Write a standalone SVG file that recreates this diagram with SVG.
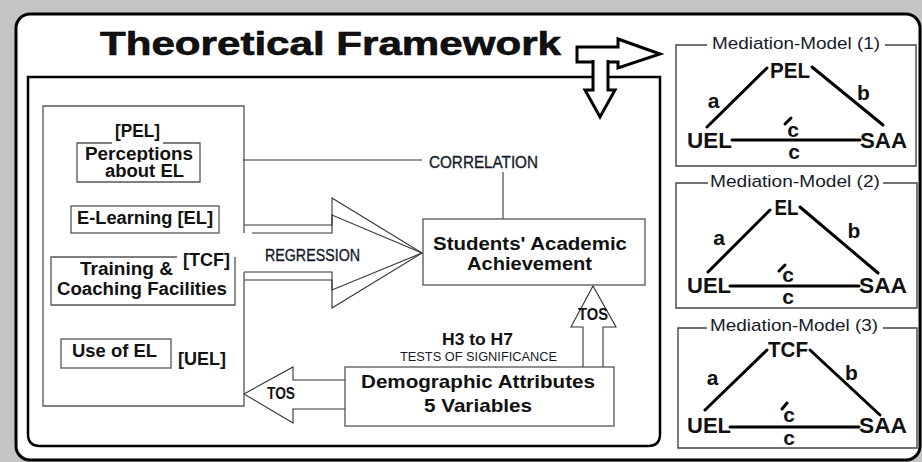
<svg xmlns="http://www.w3.org/2000/svg" width="922" height="462" viewBox="0 0 922 462">
<defs>
<style>
.b{font-family:"Liberation Sans",Arial,sans-serif;font-weight:bold;fill:#111;}
.r{font-family:"Liberation Sans",Arial,sans-serif;fill:#151b2a;}
.box{fill:none;stroke:#555;stroke-width:1.3;}
.thin{fill:none;stroke:#333;stroke-width:1.1;}
.mbox{fill:none;stroke:#444;stroke-width:1.4;}
.ml{stroke:#000;stroke-width:3;fill:none;stroke-linecap:round;}
.big{fill:#fff;stroke:#000;stroke-width:3;stroke-linejoin:miter;}
.lab{font-size:22px;text-anchor:middle;}
.sm{font-size:21px;text-anchor:middle;}
.mt{font-size:17px;text-anchor:middle;}
.lt{font-size:18px;text-anchor:middle;}
.semi{stroke:#151b2a;stroke-width:0.35;}
</style>
<clipPath id="clipPerc"><rect x="60" y="130" width="160" height="32"/></clipPath>
</defs>
<rect x="0" y="0" width="922" height="462" fill="#c4c4c4"/>
<rect x="16" y="14" width="904" height="446" rx="14" ry="14" fill="#fff" stroke="#000" stroke-width="3"/>
<g id="title">
<text class="b" x="100" y="55" font-size="33" textLength="461" lengthAdjust="spacingAndGlyphs" stroke="#000" stroke-width="0.6">Theoretical Framework</text>
</g>
<g id="inner-frame">
<path d="M28,77 H660 V434 Q660,446 648,446 H40 Q28,446 28,434 Z" fill="none" stroke="#000" stroke-width="2.5"/>
</g>
<g id="connectors">
<path class="big" d="M577,47 H618 V39 L660,54 L618,68 V62 H577 Z"/>
<path class="big" d="M593,60 V90 H585 L600,117 L615,90 H608 V60"/>
<line class="thin" x1="243" y1="160" x2="422" y2="160"/>
<line class="thin" x1="503" y1="172" x2="503" y2="219"/>
<path class="thin" d="M244,225 H332 V198 L422,253 L332,308 V280 H244"/>
<path class="thin" d="M252,233 H332 V215 L422,253 L332,290 V272 H244"/>
<path class="thin" d="M583,367 V327 H571 L593,286 L616,327 H603 V367" stroke="#666"/>
<path class="thin" d="M345,380 H293 V367 L244,394 L293,423 V409 H345" stroke="#555"/>
<text class="r semi" x="312.5" y="261" font-size="16" text-anchor="middle" textLength="95" lengthAdjust="spacingAndGlyphs">REGRESSION</text>
<text class="r semi" x="483.5" y="168" font-size="16" text-anchor="middle" textLength="109" lengthAdjust="spacingAndGlyphs">CORRELATION</text>
<text class="b" x="593" y="320" font-size="17" text-anchor="middle" textLength="30" lengthAdjust="spacingAndGlyphs">TOS</text>
<text class="b" x="281" y="399" font-size="16" text-anchor="middle" textLength="28" lengthAdjust="spacingAndGlyphs">TOS</text>
<text class="b" x="477.5" y="345" font-size="17" text-anchor="middle" textLength="71" lengthAdjust="spacingAndGlyphs">H3 to H7</text>
<text class="r" x="478.5" y="361" font-size="13.5" text-anchor="middle" textLength="157" lengthAdjust="spacingAndGlyphs" fill="#222">TESTS OF SIGNIFICANCE</text>
</g>
<g id="predictors">
<path class="box" d="M244,233 V106 H43 V406 H244 V272"/>
</g>
<g id="node-pel">
<path class="box" d="M112,143 H77 V182 H200 V143 H163"/>
<text class="b lt" x="137.5" y="137" textLength="45" lengthAdjust="spacingAndGlyphs">[PEL]</text>
<text class="b lt" x="139" y="160" textLength="108" lengthAdjust="spacingAndGlyphs" clip-path="url(#clipPerc)">Perceptions</text>
<text class="b lt" x="144.5" y="177" textLength="79" lengthAdjust="spacingAndGlyphs">about EL</text>
</g>
<g id="node-el">
<rect class="box" x="71" y="206" width="148" height="27"/>
<text class="b lt" x="145" y="224" textLength="136" lengthAdjust="spacingAndGlyphs">E-Learning [EL]</text>
</g>
<g id="node-tcf">
<path class="box" d="M177,257 H51 V305 H235 V257"/>
<text class="b lt" x="206.5" y="266" textLength="47" lengthAdjust="spacingAndGlyphs">[TCF]</text>
<text class="b lt" x="126.5" y="275" textLength="93" lengthAdjust="spacingAndGlyphs">Training &amp;</text>
<text class="b lt" x="142" y="295" textLength="170" lengthAdjust="spacingAndGlyphs">Coaching Facilities</text>
</g>
<g id="node-uel">
<rect class="box" x="61" y="339" width="110" height="29"/>
<text class="b lt" x="114.5" y="357" textLength="85" lengthAdjust="spacingAndGlyphs">Use of EL</text>
<text class="b lt" x="202" y="365" textLength="48" lengthAdjust="spacingAndGlyphs">[UEL]</text>
</g>
<g id="node-saa">
<rect class="box" x="423" y="219" width="222" height="66"/>
<text class="b" x="530" y="250" font-size="18.5" text-anchor="middle" textLength="194" lengthAdjust="spacingAndGlyphs">Students' Academic</text>
<text class="b" x="529.5" y="270" font-size="18.5" text-anchor="middle" textLength="125" lengthAdjust="spacingAndGlyphs">Achievement</text>
</g>
<g id="node-demo">
<rect class="box" x="345" y="367" width="269" height="59"/>
<text class="b" x="478" y="388" font-size="19" text-anchor="middle" textLength="234" lengthAdjust="spacingAndGlyphs">Demographic Attributes</text>
<text class="b" x="478" y="412" font-size="19" text-anchor="middle" textLength="108" lengthAdjust="spacingAndGlyphs">5 Variables</text>
</g>
<g id="model-1">
<path class="mbox" d="M707,45 H676 V166 H916 V45 H885"/>
<text class="r mt" x="796" y="49" textLength="168" lengthAdjust="spacingAndGlyphs">Mediation-Model (1)</text>
<line class="ml" x1="767" y1="68" x2="707" y2="127"/>
<line class="ml" x1="812" y1="67" x2="883" y2="125"/>
<line class="ml" x1="732" y1="140" x2="860" y2="140"/>
<line class="ml" x1="785" y1="124" x2="791" y2="118" stroke-width="2.5"/>
<text class="b lab" x="790" y="78" textLength="40" lengthAdjust="spacingAndGlyphs">PEL</text>
<text class="b lab" x="709.5" y="148" textLength="45" lengthAdjust="spacingAndGlyphs">UEL</text>
<text class="b lab" x="883.5" y="148" textLength="47" lengthAdjust="spacingAndGlyphs">SAA</text>
<text class="b sm" x="713.5" y="108">a</text>
<text class="b sm" x="863.5" y="100">b</text>
<text class="b sm" x="793" y="137">c</text>
<text class="b sm" x="794" y="159">c</text>
</g>
<g id="model-2">
<path class="mbox" d="M708,183 H676 V308 H917 V183 H883"/>
<text class="r mt" x="795" y="187" textLength="170" lengthAdjust="spacingAndGlyphs">Mediation-Model (2)</text>
<line class="ml" x1="770" y1="210" x2="708" y2="272"/>
<line class="ml" x1="800" y1="207" x2="878" y2="273"/>
<line class="ml" x1="730" y1="286" x2="859" y2="286"/>
<line class="ml" x1="779" y1="271" x2="785" y2="265" stroke-width="2.5"/>
<text class="b lab" x="786.5" y="215" textLength="24" lengthAdjust="spacingAndGlyphs">EL</text>
<text class="b lab" x="709" y="293" textLength="44" lengthAdjust="spacingAndGlyphs">UEL</text>
<text class="b lab" x="883" y="293" textLength="48" lengthAdjust="spacingAndGlyphs">SAA</text>
<text class="b sm" x="719" y="245">a</text>
<text class="b sm" x="854" y="238">b</text>
<text class="b sm" x="788" y="282">c</text>
<text class="b sm" x="788" y="304">c</text>
</g>
<g id="model-3">
<path class="mbox" d="M707,328 H678 V448 H917 V328 H883"/>
<text class="r mt" x="794" y="331" textLength="168" lengthAdjust="spacingAndGlyphs">Mediation-Model (3)</text>
<line class="ml" x1="767" y1="350" x2="705" y2="410"/>
<line class="ml" x1="810" y1="350" x2="880" y2="415"/>
<line class="ml" x1="730" y1="427" x2="859" y2="427"/>
<line class="ml" x1="782" y1="409" x2="787" y2="403" stroke-width="2.5"/>
<text class="b lab" x="788" y="357" textLength="40" lengthAdjust="spacingAndGlyphs">TCF</text>
<text class="b lab" x="709" y="433" textLength="44" lengthAdjust="spacingAndGlyphs">UEL</text>
<text class="b lab" x="883" y="433" textLength="48" lengthAdjust="spacingAndGlyphs">SAA</text>
<text class="b sm" x="712.5" y="385">a</text>
<text class="b sm" x="851.5" y="380">b</text>
<text class="b sm" x="789" y="422">c</text>
<text class="b sm" x="789" y="445">c</text>
</g>
</svg>
